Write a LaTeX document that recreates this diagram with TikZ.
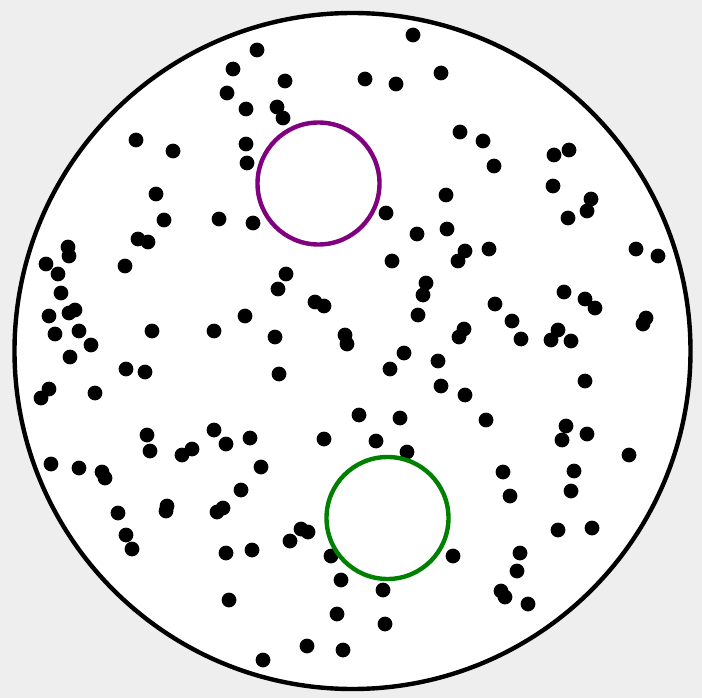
\documentclass[tikz,border=0pt]{standalone}
\usepackage{xcolor}
\usetikzlibrary{calc}
\definecolor{bggrey}{HTML}{EEEEEE}
\definecolor{ringpurple}{HTML}{800080}
\definecolor{ringgreen}{HTML}{008000}

\begin{document}
\begin{tikzpicture}[x=1pt, y=-1pt]
\def\R{338}
\def\r{61}
\def\dotr{7.4}

\coordinate (NW) at (0,0);
\coordinate (SE) at (702,698);
\coordinate (O) at (352.5,351);
\coordinate (P) at (318.5,183.5);
\coordinate (G) at (387.5,518);

\fill[bggrey] (NW) rectangle (SE);
\useasboundingbox (NW) rectangle (SE);

\draw[line width=4.4pt, fill=white] (O) circle[radius=\R];

\foreach \x/\y in {257/50, 233/69, 285/81, 227/93, 246/109, 277/107, 283/118,
  136/140, 173/151, 246/144, 247/163, 156/194, 164/220, 219/219, 253/223,
  138/239, 148/242, 68/247, 69/256, 46/264, 58/274, 125/266, 61/293,
  286/274, 278/289, 315/302, 324/306, 49/316, 69/313, 75/310, 245/316,
  55/334, 79/331, 152/331, 214/331, 275/337, 91/345, 345/335, 347/344,
  413/35, 365/79, 396/84, 441/73, 460/132, 483/141, 494/166, 554/155,
  569/150, 553/186, 591/199, 587/211, 568/218, 446/195, 386/213, 417/234,
  447/229, 465/251, 458/261, 489/249, 392/261, 636/249, 658/256, 426/283,
  423/295, 564/292, 585/299, 595/308, 495/304, 418/315, 512/321, 521/339,
  464/329, 459/337, 558/330, 551/340, 571/341, 646/318, 643/324,
  70/357, 126/369, 145/372, 279/374, 49/389, 41/398, 95/393, 214/430,
  226/444, 250/438, 147/435, 150/451, 192/449, 182/455, 324/439, 51/464,
  79/468, 102/472, 105/478, 261/467, 241/490, 167/506, 166/511, 223/508,
  217/512, 118/513, 301/529, 308/532, 290/541, 126/535, 132/549, 226/553,
  252/550, 331/556, 341/580, 229/600, 337/614, 307/646, 343/650, 263/660,
  404/353, 438/361, 390/369, 441/386, 465/395, 585/381, 359/415, 400/418,
  486/420, 566/426, 562/440, 587/434, 629/455, 376/441, 407/452, 503/472,
  574/471, 510/496, 571/491, 558/530, 592/528, 453/556, 520/553, 517/571,
  501/591, 505/597, 528/604, 383/590, 385/624}
  \fill (\x,\y) circle[radius=\dotr];

\draw[ringpurple, line width=4.4pt] (P) circle[radius=\r];
\draw[ringgreen, line width=4.4pt] (G) circle[radius=\r];
\end{tikzpicture}
\end{document}
